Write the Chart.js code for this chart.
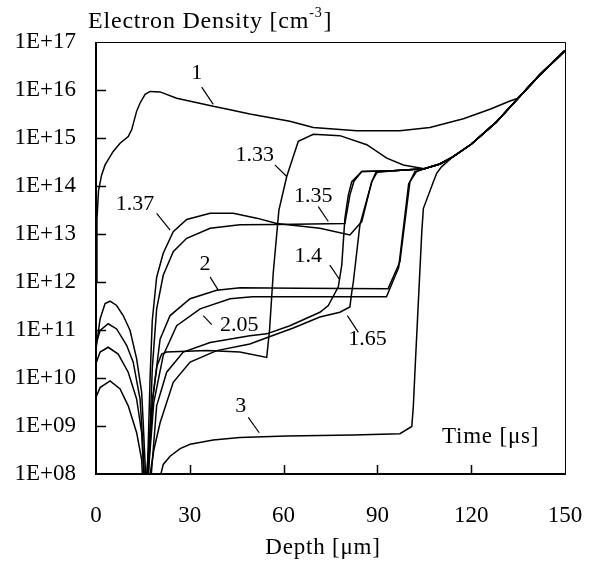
<!DOCTYPE html>
<html>
<head>
<meta charset="utf-8">
<script src="https://cdn.jsdelivr.net/npm/chart.js@4.4.0/dist/chart.umd.min.js"></script>
<style>
  html, body { margin: 0; padding: 0; background: #fff; }
</style>
</head>
<body>
<canvas id="chart" width="597" height="567"></canvas>
<script>
// axis ticks
const depthTicks = [0, 30, 60, 90, 120, 150];
const densityTicks = [1e8, 1e9, 1e10, 1e11, 1e12, 1e13, 1e14, 1e15, 1e16, 1e17];
const densityTickLabels = ['1E+08', '1E+09', '1E+10', '1E+11', '1E+12', '1E+13', '1E+14', '1E+15', '1E+16', '1E+17'];

// time of each profile [us]
const times = ['1', '1.33', '1.35', '1.37', '1.4', '1.65', '2', '2.05', '3'];

// profiles: depth [um] / electron density [cm-3]
const depth_1 = [0, 0.3, 0.8, 1.8, 2.9, 5.5, 7.7, 10.3, 11.4, 13.0, 14.1, 15.7, 17.3, 20.5, 25.8, 37.5, 42.9, 49.2, 62, 69.5, 83.4, 97.2, 106.8, 117.5, 126, 132.4];
const dens_1 = [1e12, 2e13, 7.9e13, 1.7e14, 2.75e14, 5.25e14, 7.76e14, 1.07e15, 1.48e15, 3.63e15, 5.37e15, 8.13e15, 9.33e15, 9.12e15, 6.76e15, 4.57e15, 3.89e15, 3.16e15, 2.24e15, 1.66e15, 1.41e15, 1.41e15, 1.66e15, 2.51e15, 3.98e15, 5.89e15];

const depth_133 = [0, 1.3, 2.9, 4.5, 6.6, 8.7, 10.9, 13.0, 14.6, 15.1, 16.2, 18.2, 19.5, 21, 22.6, 35.4, 46, 54.6, 55.5, 56.7, 58.5, 61, 64.7, 69.5, 78, 86.6, 93, 98.3];
const dens_133 = [3.98e10, 1.7e11, 3.55e11, 3.98e11, 3.24e11, 2e11, 9.77e10, 2.51e10, 5.01e9, 1.17e9, 3.16e7, 3.98e9, 1.78e10, 3.16e10, 3.47e10, 3.72e10, 3.47e10, 2.69e10, 1e11, 1.58e12, 3.16e13, 1.58e14, 8.51e14, 1.2e15, 1.12e15, 7.24e14, 3.8e14, 2.75e14];

const depth_135 = [0, 1.3, 3.9, 6.6, 9.8, 11.9, 14.1, 14.9, 16.2, 18, 19.4, 21.5, 24.7, 29, 36.5, 46, 57.8, 79.6, 81.2, 82.5, 85, 95];
const dens_135 = [5.01e10, 9.77e10, 1.35e11, 1.05e11, 4.79e10, 2.14e10, 3.63e9, 5.25e8, 1e7, 1.58e10, 2.75e11, 1.38e12, 4.27e12, 8.13e12, 1.32e13, 1.55e13, 1.58e13, 1.66e13, 6.46e13, 1.26e14, 2e14, 2.09e14];

const depth_137 = [0, 1.3, 3.9, 7.1, 10.3, 13.0, 14.6, 16.0, 17.3, 18, 19.4, 21.5, 24.7, 29, 36.5, 43.9, 51.4, 57.8, 71.6, 81.2, 85, 88.2, 90, 95];
const dens_137 = [2e10, 3.47e10, 4.37e10, 3.16e10, 1.32e10, 3.63e9, 7.24e8, 1e7, 1e10, 1.58e11, 1.26e12, 3.98e12, 1.12e13, 2e13, 2.69e13, 2.69e13, 2.14e13, 1.66e13, 1.32e13, 9.55e12, 1.82e13, 1.23e14, 2e14, 2.09e14];

const depth_14 = [0, 1.3, 4.5, 7.7, 10.3, 13.0, 14.6, 15.2, 16.5, 19.4, 22.6, 27.9, 36.5, 49.2, 54.6, 62, 71.6, 74.3, 77.5, 78.6, 79.6, 80.7, 81.8, 85, 95];
const dens_14 = [3.98e9, 6.31e9, 8.71e9, 5.89e9, 2.63e9, 7.24e8, 2e8, 3.16e7, 1e7, 2.63e9, 1.32e10, 3.47e10, 5.5e10, 7.59e10, 8.32e10, 1.23e11, 2.34e11, 3.24e11, 7.94e11, 2.24e12, 2.09e13, 6.46e13, 1.23e14, 2e14, 2.09e14];

const depth_165 = [15, 18.5, 20.5, 24.7, 30.1, 38.6, 49.2, 54.6, 63.1, 71.6, 78, 81.2, 81.8, 82.3, 84.4, 88.2, 89.5, 95];
const dens_165 = [1e7, 3.16e8, 1.17e9, 8.13e9, 2.14e10, 3.72e10, 5.13e10, 6.92e10, 1.1e11, 1.86e11, 2.34e11, 3.02e11, 6.17e11, 1e12, 1.55e13, 1.23e14, 1.91e14, 2.09e14];

const depth_2 = [15, 18, 20.5, 23.7, 30.1, 38.6, 46.1, 65, 93.4, 97.2, 100.4, 102];
const dens_2 = [1e7, 3.16e9, 6.46e10, 2e11, 4.47e11, 6.76e11, 7.59e11, 7.41e11, 7.24e11, 2.63e12, 1.23e14, 2e14];

const depth_205 = [15.5, 18.5, 21.5, 25.8, 33.3, 42.9, 50, 92.9, 96.8, 100, 102.5];
const dens_205 = [1e7, 3.16e9, 2.95e10, 1.23e11, 2.75e11, 4.47e11, 4.9e11, 4.9e11, 2e12, 1.12e14, 2e14];

const depth_3 = [20, 21.5, 23.7, 26.9, 30.1, 37.5, 46, 61, 82.3, 97.2, 101, 101.5, 102, 104.2, 104.7, 107.9, 109, 110.5];
const dens_3 = [6.31e7, 1.58e8, 2.34e8, 3.39e8, 4.17e8, 5.13e8, 5.75e8, 6.17e8, 6.46e8, 6.92e8, 9.77e8, 2.63e9, 1.32e10, 1.12e13, 3.39e13, 1.23e14, 1.86e14, 2.51e14];

// common tail that every profile merges into
const tailDepth = [105, 110, 114, 120, 128, 135, 142, 150];
const tailDens = [2.29e14, 2.88e14, 3.98e14, 7.41e14, 2.14e15, 6.76e15, 2.09e16, 6.61e16];

// curve labels (text position and leader line, in data units)
const labels = [
  { text: '1',    at: [32.2, 2.2e16],  from: [33.8, 1.15e16], to: [37.5, 5.0e15] },
  { text: '1.33', at: [50.8, 4.47e14], from: [57.2, 2.75e14], to: [61, 1.58e14] },
  { text: '1.35', at: [69.5, 6.03e13], from: [71.1, 3.72e13], to: [74.3, 1.82e13] },
  { text: '1.37', at: [12.5, 4.17e13], from: [19.4, 2.69e13], to: [23.7, 1.2e13] },
  { text: '2',    at: [34.9, 2.4e12],  from: [36.5, 1.26e12], to: [39.1, 6.76e11] },
  { text: '2.05', at: [45.8, 1.23e11], from: [34.3, 2e11],    to: [37, 1.29e11] },
  { text: '1.4',  at: [67.9, 3.47e12], from: [74.8, 2.24e12], to: [78, 1.1e12] },
  { text: '1.65', at: [86.8, 6.31e10], from: [80.4, 2e11],    to: [83.9, 8.91e10] },
  { text: '3',    at: [46.3, 2.63e9],  from: [48.7, 1.51e9],  to: [52.2, 7.24e8] }
];

const profiles = [
  [depth_1, dens_1], [depth_133, dens_133], [depth_135, dens_135], [depth_137, dens_137],
  [depth_14, dens_14], [depth_165, dens_165], [depth_2, dens_2], [depth_205, dens_205], [depth_3, dens_3]
];

function buildPoints(depths, dens) {
  const pts = depths.map((d, i) => ({ x: d, y: dens[i] }));
  const last = depths[depths.length - 1];
  tailDepth.forEach((d, i) => {
    if (d > last + 2) pts.push({ x: d, y: tailDens[i] });
  });
  return pts;
}

const serif = '"Liberation Serif", "Times New Roman", serif';

const decorPlugin = {
  id: 'decor',
  afterDraw(chart) {
    const { ctx, chartArea: a, scales: { x, y } } = chart;
    ctx.save();
    ctx.strokeStyle = '#000';
    ctx.fillStyle = '#000';

    // frame: thin top/right, heavy left/bottom
    ctx.lineWidth = 1;
    ctx.beginPath();
    ctx.moveTo(a.left, a.top + 0.5);
    ctx.lineTo(a.right + 0.5, a.top + 0.5);
    ctx.lineTo(a.right + 0.5, a.bottom);
    ctx.stroke();
    ctx.lineWidth = 2;
    ctx.beginPath();
    ctx.moveTo(a.left, a.top);
    ctx.lineTo(a.left, a.bottom);
    ctx.lineTo(a.right + 1, a.bottom);
    ctx.stroke();

    // inward ticks
    ctx.lineWidth = 1.5;
    ctx.beginPath();
    densityTicks.slice(1, -1).forEach(v => {
      const py = Math.round(y.getPixelForValue(v)) + 0.5;
      ctx.moveTo(a.left, py);
      ctx.lineTo(a.left + 10, py);
    });
    depthTicks.slice(1, -1).forEach(v => {
      const px = Math.round(x.getPixelForValue(v)) + 0.5;
      ctx.moveTo(px, a.bottom);
      ctx.lineTo(px, a.bottom - 9);
    });
    ctx.stroke();

    // curve labels
    ctx.font = '22px ' + serif;
    ctx.textAlign = 'center';
    ctx.textBaseline = 'middle';
    ctx.lineWidth = 1.2;
    labels.forEach(l => {
      ctx.fillText(l.text, x.getPixelForValue(l.at[0]), y.getPixelForValue(l.at[1]));
      ctx.beginPath();
      ctx.moveTo(x.getPixelForValue(l.from[0]), y.getPixelForValue(l.from[1]));
      ctx.lineTo(x.getPixelForValue(l.to[0]), y.getPixelForValue(l.to[1]));
      ctx.stroke();
    });

    ctx.letterSpacing = '0.8px';

    // caption inside the plot
    ctx.font = '23px ' + serif;
    ctx.fillText('Time [\u03bcs]', x.getPixelForValue(126.2), y.getPixelForValue(6.03e8));

    // x axis title
    ctx.textBaseline = 'alphabetic';
    ctx.fillText('Depth [\u03bcm]', a.left + 227, 554);

    // y axis title with superscript
    ctx.textAlign = 'left';
    let tx = 88;
    const main = 'Electron Density [cm';
    ctx.font = '24px ' + serif;
    ctx.fillText(main, tx, 28);
    tx += ctx.measureText(main).width;
    ctx.font = '14px ' + serif;
    ctx.fillText('-3', tx, 17);
    tx += ctx.measureText('-3').width + 1;
    ctx.font = '24px ' + serif;
    ctx.fillText(']', tx, 28);

    ctx.restore();
  }
};

const chart = new Chart(document.getElementById('chart'), {
  type: 'line',
  data: {
    datasets: profiles.map((p, i) => ({
      label: times[i],
      data: buildPoints(p[0], p[1]),
      borderColor: '#000',
      borderWidth: 1.5,
      pointRadius: 0,
      tension: 0,
      fill: false
    }))
  },
  options: {
    responsive: false,
    animation: false,
    devicePixelRatio: 1,
    layout: { padding: { top: 42, right: 32, left: 0, bottom: 0 } },
    plugins: { legend: { display: false }, tooltip: { enabled: false } },
    scales: {
      x: {
        type: 'linear',
        min: 0,
        max: 150,
        grid: { display: false, drawTicks: false },
        border: { display: false },
        afterBuildTicks: scale => { scale.ticks = depthTicks.map(v => ({ value: v })); },
        afterFit: scale => {
          scale.height = 93;
          scale.paddingLeft = 0;
          scale.paddingRight = 0;
        },
        ticks: {
          padding: 28,
          color: '#000',
          maxRotation: 0,
          font: { family: serif, size: 23 }
        }
      },
      y: {
        type: 'logarithmic',
        min: 1e8,
        max: 1e17,
        grid: { display: false, drawTicks: false },
        border: { display: false },
        afterBuildTicks: scale => { scale.ticks = densityTicks.map(v => ({ value: v })); },
        afterFit: scale => {
          scale.width = 96;
          scale.paddingTop = 0;
          scale.paddingBottom = 0;
        },
        ticks: {
          padding: 20,
          color: '#000',
          font: { family: serif, size: 23 },
          callback: (value, index) => densityTickLabels[index]
        }
      }
    }
  },
  plugins: [decorPlugin]
});
</script>
</body>
</html>
